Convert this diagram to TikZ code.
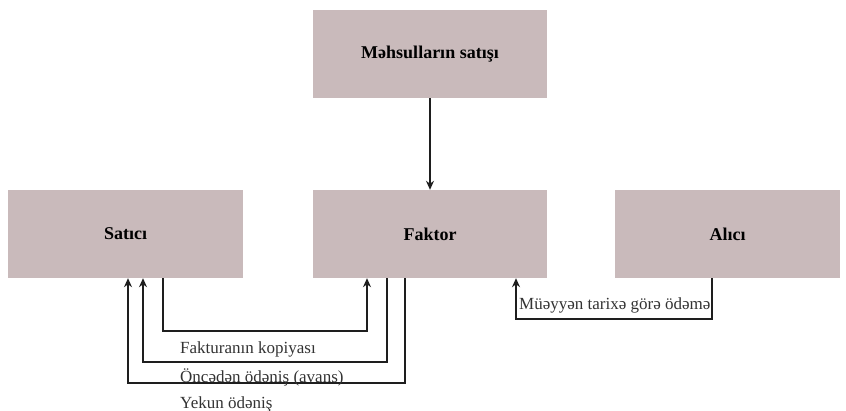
\documentclass[tikz,border=0pt]{standalone}
\usepackage{fontspec}
\setmainfont{Liberation Serif}
\usetikzlibrary{arrows.meta,calc}
\definecolor{boxfill}{RGB}{201,186,187}
\definecolor{linec}{RGB}{30,30,30}
\tikzset{
  box/.style={fill=boxfill, draw=none, minimum width=234pt, minimum height=88pt, inner sep=0pt, font=\fontsize{18}{20}\selectfont\bfseries},
  conn/.style={draw=linec, line width=1.3pt, -{Stealth[length=9pt,width=8pt]}},
  lbl/.style={anchor=west, inner sep=0pt, font=\fontsize{17}{19}\selectfont, text=black!80}
}
\begin{document}
\begin{tikzpicture}[x=1pt,y=1pt]
\useasboundingbox (0,0) rectangle (846,-411);
\node[box] (top) at (430,-54) {Məhsulların satışı};
\node[box, minimum width=235pt] (sat) at (125.5,-234) {Satıcı};
\node[box] (fak) at (430,-234) {Faktor};
\node[box, minimum width=225pt] (alici) at (727.5,-234) {Alıcı};

\draw[conn] (top) -- (fak);

\coordinate (a1) at (163,-331);
\coordinate (a2) at (367,-331);
\draw[conn] (sat.south -| a1) -- (a1) -- (a2) -- (fak.south -| a2);

\coordinate (b1) at (387,-362);
\coordinate (b2) at (143,-362);
\draw[conn] (fak.south -| b1) -- (b1) -- (b2) -- (sat.south -| b2);

\coordinate (c1) at (405,-383);
\coordinate (c2) at (128,-383);
\draw[conn] (fak.south -| c1) -- (c1) -- (c2) -- (sat.south -| c2);

\coordinate (d1) at (712,-319);
\coordinate (d2) at (516,-319);
\draw[conn] (alici.south -| d1) -- (d1) -- (d2) -- (fak.south -| d2);

\node[lbl] (l1) at (180,-349) {Fakturanın kopiyası};
\node[lbl] (l2) at (180,-377) {Öncədən ödəniş (avans)};
\node[lbl] (l3) at (180,-404) {Yekun ödəniş};
\node[lbl] (l4) at (519,-305) {Müəyyən tarixə görə ödəmə};
\end{tikzpicture}
\end{document}
